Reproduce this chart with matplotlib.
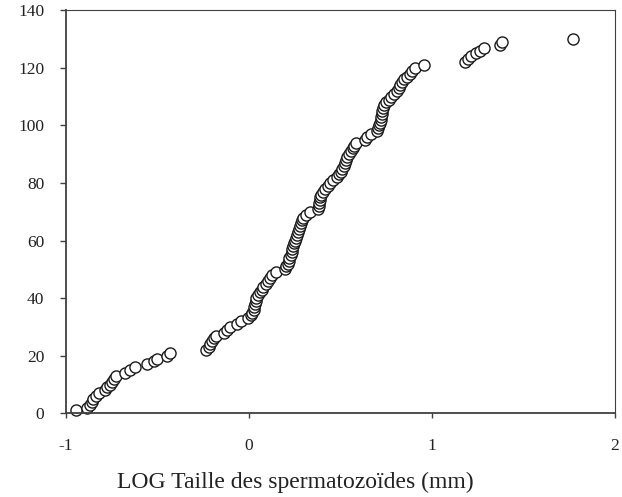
import matplotlib
matplotlib.use("Agg")
import matplotlib.pyplot as plt

# log sperm size (mm), sorted, and cumulative rank
log_size = [
    -0.945, -0.885, -0.868, -0.858, -0.849, -0.835, -0.820, -0.785, -0.772, -0.760,
    -0.748, -0.736, -0.724, -0.676, -0.648, -0.620, -0.556, -0.520, -0.500, -0.448,
    -0.428, -0.236, -0.218, -0.210, -0.203, -0.190, -0.180, -0.136, -0.118, -0.100,
    -0.062, -0.045, -0.002, 0.012, 0.020, 0.026, 0.030, 0.034, 0.038, 0.042,
    0.050, 0.060, 0.070, 0.078, 0.092, 0.106, 0.115, 0.124, 0.150, 0.195,
    0.205, 0.212, 0.218, 0.222, 0.228, 0.234, 0.238, 0.242, 0.248, 0.254,
    0.258, 0.262, 0.268, 0.273, 0.278, 0.285, 0.292, 0.298, 0.310, 0.333,
    0.376, 0.381, 0.384, 0.387, 0.391, 0.396, 0.405, 0.414, 0.430, 0.443,
    0.460, 0.480, 0.495, 0.503, 0.510, 0.518, 0.527, 0.532, 0.536, 0.548,
    0.558, 0.567, 0.575, 0.585, 0.635, 0.648, 0.666, 0.700, 0.708, 0.712,
    0.716, 0.720, 0.723, 0.726, 0.729, 0.733, 0.740, 0.750, 0.765, 0.778,
    0.795, 0.812, 0.818, 0.824, 0.838, 0.850, 0.865, 0.878, 0.890, 0.905,
    0.955, 1.180, 1.198, 1.215, 1.240, 1.260, 1.285, 1.370, 1.385, 1.770,
]
rank = [
    1, 2, 3, 4, 5, 6, 7, 8, 9, 10,
    11, 12, 13, 14, 15, 16, 17, 18, 19, 20,
    21, 22, 23, 24, 25, 26, 27, 28, 29, 30,
    31, 32, 33, 34, 35, 36, 37, 38, 39, 40,
    41, 42, 43, 44, 45, 46, 47, 48, 49, 50,
    51, 52, 53, 54, 55, 56, 57, 58, 59, 60,
    61, 62, 63, 64, 65, 66, 67, 68, 69, 70,
    71, 72, 73, 74, 75, 76, 77, 78, 79, 80,
    81, 82, 83, 84, 85, 86, 87, 88, 89, 90,
    91, 92, 93, 94, 95, 96, 97, 98, 99, 100,
    101, 102, 103, 104, 105, 106, 107, 108, 109, 110,
    111, 112, 113, 114, 115, 116, 117, 118, 119, 120,
    121, 122, 123, 124, 125, 126, 127, 128, 129, 130,
]
xticks = [-1, 0, 1, 2]
yticks = [0, 20, 40, 60, 80, 100, 120, 140]

plt.rcParams['font.family'] = ['Liberation Serif', 'DejaVu Serif']

W, H = 622, 497
fig = plt.figure(figsize=(W / 100, H / 100), dpi=100)
ax = fig.add_axes([65.7 / W, 1 - 413.3 / H, (615 - 65.7) / W, (413.3 - 10.3) / H])

ax.plot(log_size, rank, 'o', ms=8, mfc='white', mec='#1a1a1a', mew=1.0, clip_on=False)

ax.set_xlim(-1, 2)
ax.set_ylim(0, 140)
ax.set_xticks(xticks)
ax.set_yticks(yticks)
ax.set_xticklabels([str(t) for t in xticks])
ax.tick_params(axis='x', direction='out', length=3.6, width=1, color='#404040',
               labelsize=12.5, pad=14, labelcolor='#222222')
ax.tick_params(axis='y', direction='out', length=4.3, width=1, color='#404040',
               labelsize=12.5, pad=11, labelcolor='#222222')
for side in ['bottom', 'left']:
    ax.spines[side].set_color('#404040')
    ax.spines[side].set_linewidth(1.3)
for side in ['top', 'right']:
    ax.spines[side].set_color('#404040')
    ax.spines[side].set_linewidth(0.8)

fig.text(295 / W, 1 - 488.3 / H, 'LOG Taille des spermatozoïdes (mm)',
         ha='center', va='baseline', fontsize=17, color='#222222')

fig.savefig('out.png', dpi=100)
